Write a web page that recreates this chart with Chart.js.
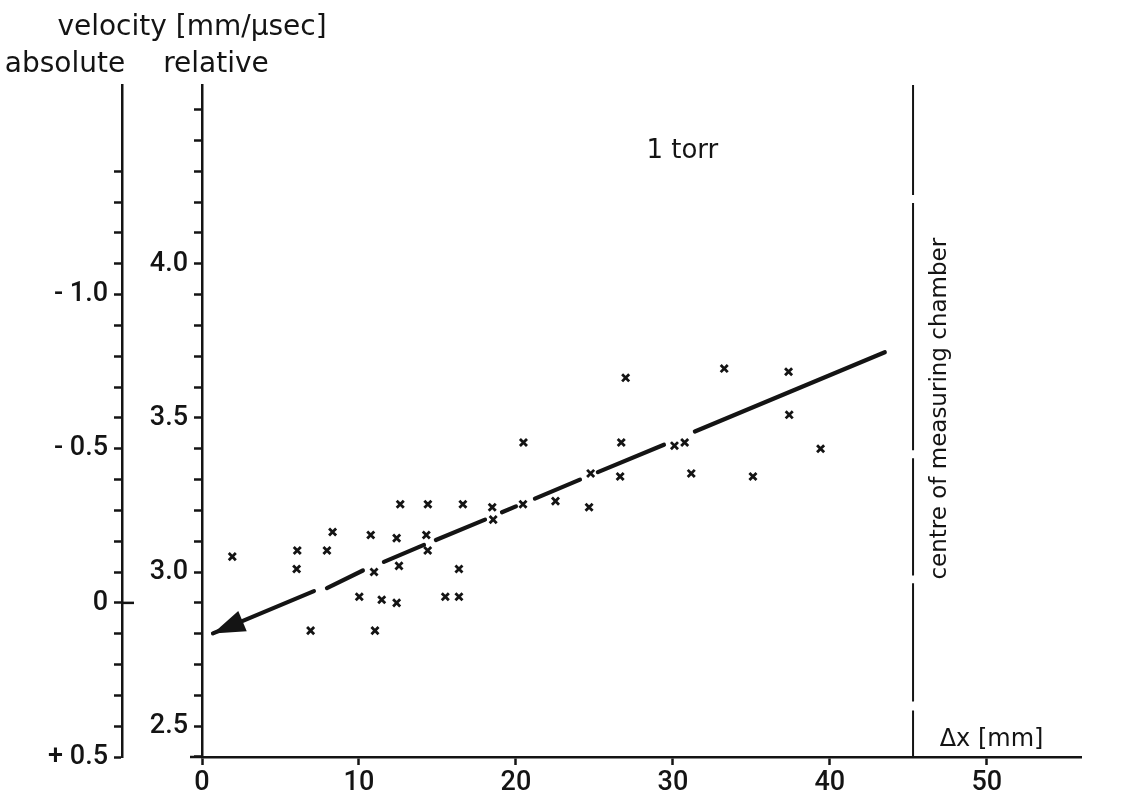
<!DOCTYPE html>
<html>
<head>
<meta charset="utf-8">
<script src="https://cdn.jsdelivr.net/npm/chart.js@4.4.1/dist/chart.umd.min.js"></script>
<style>
  html, body { margin: 0; padding: 0; background: #fff; }
</style>
</head>
<body>
<canvas id="velocityChart" width="1123" height="802"></canvas>
<script>
// measured points: distance [mm] and relative velocity [mm/usec]
const dxValues  = [1.93, 6.03, 6.07, 6.92, 7.96, 8.32, 10.02, 10.75, 10.96, 11.02,
                   11.45, 12.40, 12.40, 12.55, 12.63, 14.29, 14.38, 14.39, 15.50, 16.37,
                   16.37, 16.62, 18.49, 18.55, 20.45, 20.48, 22.52, 24.66, 24.76, 26.64,
                   26.71, 26.99, 30.10, 30.75, 31.17, 33.27, 35.10, 37.37, 37.41, 39.41];
const velValues = [3.05, 3.01, 3.07, 2.81, 3.07, 3.13, 2.92, 3.12, 3.00, 2.81,
                   2.91, 3.11, 2.90, 3.02, 3.22, 3.12, 3.07, 3.22, 2.92, 2.92,
                   3.01, 3.22, 3.21, 3.17, 3.22, 3.42, 3.23, 3.21, 3.32, 3.31,
                   3.42, 3.63, 3.41, 3.42, 3.32, 3.66, 3.31, 3.65, 3.51, 3.40];

// trend line, drawn broken (null = gap), first point is the arrow tip
const fitX = [0.70, 7.13, null, 7.96, 10.25, null, 11.59, 14.14, null, 14.90, 18.03, null,
              19.11, 20.00, null, 21.21, 24.08, null, 25.22, 29.43, null, 31.40, 43.50];
const fitY = [2.801, 2.938, null, 2.948, 3.005, null, 3.033, 3.088, null, 3.104, 3.170, null,
              3.194, 3.213, null, 3.238, 3.300, null, 3.324, 3.413, null, 3.456, 3.713];

// centre of measuring chamber (dashed vertical)
const chamberX = 45.3;
const chamberY = [2.40, 2.551, null, 2.580, 2.964, null, 2.989, 3.369, null, 3.395, 4.197, null, 4.223, 4.58];

// axis ranges
const relMin = 2.4, relMax = 4.58;
const absOffset = 2.9;            // absolute = absOffset - relative
const xMin = 0, xMax = 56;
const xTicks = [0, 10, 20, 30, 40, 50];

const INK = '#141414';
const tickFont = { family: 'Roboto', size: 27, weight: '500' };
const textFont = '"DejaVu Sans", sans-serif';

const points = dxValues.map((x, i) => ({ x, y: velValues[i] }));
const fitLine = fitX.map((x, i) => ({ x, y: fitY[i] }));
const chamberLine = chamberY.map(y => ({ x: y === null ? null : chamberX, y }));

const decorations = {
    id: 'decorations',
    afterDatasetsDraw(chart) {
        // arrow head at the start of the trend line
        const meta = chart.getDatasetMeta(1);
        const tip = meta.data[0], next = meta.data[1];
        const dx = next.x - tip.x, dy = next.y - tip.y;
        const len = Math.hypot(dx, dy);
        const ux = dx / len, uy = dy / len;
        const bx = tip.x + ux * 32, by = tip.y + uy * 32;
        const ctx = chart.ctx;
        ctx.save();
        ctx.fillStyle = INK;
        ctx.beginPath();
        ctx.moveTo(tip.x, tip.y);
        ctx.lineTo(bx - uy * 11, by + ux * 11);
        ctx.lineTo(bx + uy * 11, by - ux * 11);
        ctx.closePath();
        ctx.fill();
        ctx.restore();
    },
    afterDraw(chart) {
        const { ctx, chartArea, scales } = chart;
        const { x, y, abs } = scales;
        ctx.save();
        ctx.fillStyle = INK;
        ctx.strokeStyle = INK;

        // x axis runs a little past the relative axis
        ctx.lineWidth = 2.5;
        ctx.beginPath();
        ctx.moveTo(chartArea.left - 12, chartArea.bottom);
        ctx.lineTo(chartArea.left, chartArea.bottom);
        ctx.stroke();

        // zero mark of the absolute axis crosses the line
        const z = abs.getPixelForValue(0);
        ctx.beginPath();
        ctx.moveTo(abs.right, z);
        ctx.lineTo(abs.right + 12, z);
        ctx.stroke();

        ctx.font = '28px ' + textFont;
        ctx.textAlign = 'center';
        ctx.textBaseline = 'alphabetic';
        ctx.fillText('velocity [mm/\u03BCsec]', 192, 35);
        ctx.fillText('absolute', 65, 72);
        ctx.fillText('relative', 216, 72);

        ctx.font = '26px ' + textFont;
        ctx.textBaseline = 'middle';
        ctx.fillText('1 torr', x.getPixelForValue(30.6), y.getPixelForValue(4.365));

        ctx.font = '24px ' + textFont;
        ctx.fillText('\u0394x [mm]', x.getPixelForValue(50.3), chartArea.bottom - 17);

        ctx.font = '23px ' + textFont;
        ctx.translate(x.getPixelForValue(chamberX) + 27, y.getPixelForValue(3.53));
        ctx.rotate(-Math.PI / 2);
        ctx.fillText('centre of measuring chamber', 0, 0);
        ctx.restore();
    }
};

const axisGrid = {
    drawOnChartArea: false,
    drawTicks: true,
    tickLength: 8,
    tickWidth: 2.5,
    color: INK
};
const axisBorder = { display: true, color: INK, width: 2.5 };

new Chart(document.getElementById('velocityChart'), {
    type: 'scatter',
    data: {
        datasets: [
            {
                data: points,
                pointStyle: 'crossRot',
                pointRadius: 5,
                pointBorderWidth: 2.8,
                borderColor: INK,
                backgroundColor: INK
            },
            {
                type: 'line',
                data: fitLine,
                borderColor: INK,
                borderWidth: 4.2,
                pointRadius: 0,
                spanGaps: false,
                borderCapStyle: 'round'
            },
            {
                type: 'line',
                data: chamberLine,
                borderColor: INK,
                borderWidth: 2,
                pointRadius: 0,
                spanGaps: false
            }
        ]
    },
    options: {
        responsive: false,
        animation: false,
        devicePixelRatio: 1,
        layout: { padding: { top: 85, right: 42, bottom: 0, left: 0 } },
        plugins: {
            legend: { display: false },
            tooltip: { enabled: false }
        },
        scales: {
            x: {
                type: 'linear',
                position: 'bottom',
                min: xMin,
                max: xMax,
                grid: axisGrid,
                border: axisBorder,
                afterBuildTicks: (scale) => {
                    scale.ticks = xTicks.map(v => ({ value: v }));
                },
                afterFit: (scale) => { scale.height = 45; },
                ticks: {
                    color: INK,
                    font: tickFont,
                    padding: 2,
                    maxRotation: 0,
                    callback: (v) => String(v)
                }
            },
            y: {
                type: 'linear',
                position: 'left',
                weight: 0,
                min: relMin,
                max: relMax,
                grid: axisGrid,
                border: axisBorder,
                afterFit: (scale) => { scale.width = 80; },
                ticks: {
                    stepSize: 0.1,
                    includeBounds: false,
                    color: INK,
                    font: tickFont,
                    padding: 6,
                    autoSkip: false,
                    callback: (v) => {
                        const k = Math.round(v * 10);
                        return (k % 5 === 0 && k >= 25 && k <= 40) ? (k / 10).toFixed(1) : '';
                    }
                }
            },
            abs: {
                type: 'linear',
                position: 'left',
                weight: 1,
                reverse: true,
                min: absOffset - relMax,
                max: absOffset - relMin,
                grid: axisGrid,
                border: axisBorder,
                afterFit: (scale) => { scale.width = 122; },
                afterBuildTicks: (scale) => {
                    scale.ticks = scale.ticks.filter(t => t.value >= -1.45);
                },
                ticks: {
                    stepSize: 0.1,
                    includeBounds: false,
                    color: INK,
                    font: tickFont,
                    padding: 6,
                    autoSkip: false,
                    callback: (v) => {
                        const k = Math.round(v * 10);
                        if (k % 5 !== 0) return '';
                        if (k === 0) return '0';
                        return (k < 0 ? '- ' : '+ ') + (Math.abs(k) / 10).toFixed(1);
                    }
                }
            }
        }
    },
    plugins: [decorations]
});
</script>
</body>
</html>
